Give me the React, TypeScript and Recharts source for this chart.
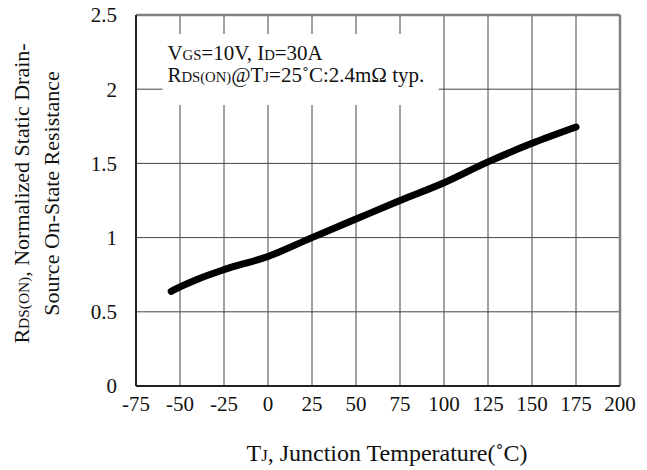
import React from "react";
import {
  LineChart, Line, XAxis, YAxis, CartesianGrid, ReferenceArea, ReferenceLine,
} from "recharts";

// junction temperature (°C) vs normalized RDS(ON)
const temps = [-55, -50, -40, -25, 0, 25, 50, 75, 100, 125, 150, 175];
const rdsNorm = [0.638, 0.668, 0.72, 0.784, 0.873, 1.0, 1.125, 1.25, 1.37, 1.51, 1.635, 1.745];

const xTicks = [-75, -50, -25, 0, 25, 50, 75, 100, 125, 150, 175, 200];
const yTicks = [0, 0.5, 1, 1.5, 2, 2.5];

const FONT = "'Liberation Serif', 'DejaVu Serif', serif";
const SUB = "70%";

const chartData = temps.map((t, i) => ({ t, r: rdsNorm[i] }));

function YTitle(props: any) {
  const vb = props.viewBox || { x: 0, y: 15, width: 136, height: 371 };
  const cy = vb.y + vb.height / 2 - 7;
  const x1 = 29;
  const x2 = 59;
  return (
    <g fontFamily={FONT} fontSize={22} fill="#111">
      <text x={x1} y={cy} textAnchor="middle" transform={`rotate(-90, ${x1}, ${cy})`}>
        R<tspan fontSize={SUB}>DS(ON)</tspan>, Normalized Static Drain-
      </text>
      <text x={x2} y={cy} textAnchor="middle" transform={`rotate(-90, ${x2}, ${cy})`}>
        Source On-State Resistance
      </text>
    </g>
  );
}

function XTitle(props: any) {
  const vb = props.viewBox || { x: 136, y: 386, width: 484, height: 84 };
  const cx = vb.x + vb.width / 2 + 9;
  return (
    <text x={cx} y={vb.y + 75} textAnchor="middle" fontFamily={FONT} fontSize={24} fill="#111">
      T<tspan fontSize={SUB}>J</tspan>, Junction Temperature(˚C)
    </text>
  );
}

function Note(props: any) {
  const vb = props.viewBox || { x: 162, y: 34 };
  const x = vb.x + 5;
  return (
    <g fontFamily={FONT} fontSize={21} fill="#111">
      <text x={x} y={vb.y + 26}>
        V<tspan fontSize={SUB}>GS</tspan>=10V, I<tspan fontSize={SUB}>D</tspan>=30A
      </text>
      <text x={x} y={vb.y + 48}>
        R<tspan fontSize={SUB}>DS(ON)</tspan>@T<tspan fontSize={SUB}>J</tspan>=25˚C:2.4mΩ typ.
      </text>
    </g>
  );
}

export default function App() {
  const tickStyle = { fontSize: 21, fill: "#111", fontFamily: FONT };
  return (
    <div style={{ position: "absolute", left: 0, top: 0, width: 647, height: 470, background: "#fff" }}>
      <LineChart
        width={647}
        height={470}
        data={chartData}
        margin={{ top: 15, right: 27, left: 0, bottom: 0 }}
      >
        <CartesianGrid stroke="#444" strokeWidth={1} />
        <XAxis
          dataKey="t"
          type="number"
          domain={[-75, 200]}
          ticks={xTicks}
          height={84}
          tick={tickStyle}
          tickLine={false}
          tickSize={0}
          tickMargin={10}
          axisLine={{ stroke: "#222", strokeWidth: 2 }}
          allowDataOverflow
          label={{ content: <XTitle /> }}
        />
        <YAxis
          type="number"
          domain={[0, 2.5]}
          ticks={yTicks}
          width={136}
          tick={tickStyle}
          tickLine={false}
          tickSize={0}
          tickMargin={19}
          axisLine={{ stroke: "#222", strokeWidth: 2 }}
          label={{ content: <YTitle /> }}
        />
        <ReferenceLine y={2.5} stroke="#808080" strokeWidth={2.5} />
        <ReferenceLine x={200} stroke="#808080" strokeWidth={2.5} />
        <ReferenceArea
          x1={-60}
          x2={97}
          y1={1.894}
          y2={2.372}
          fill="#fff"
          fillOpacity={1}
          stroke="none"
          label={{ content: <Note /> }}
        />
        <Line
          type="monotone"
          dataKey="r"
          stroke="#000"
          strokeWidth={7}
          strokeLinecap="round"
          dot={false}
          isAnimationActive={false}
        />
      </LineChart>
    </div>
  );
}
